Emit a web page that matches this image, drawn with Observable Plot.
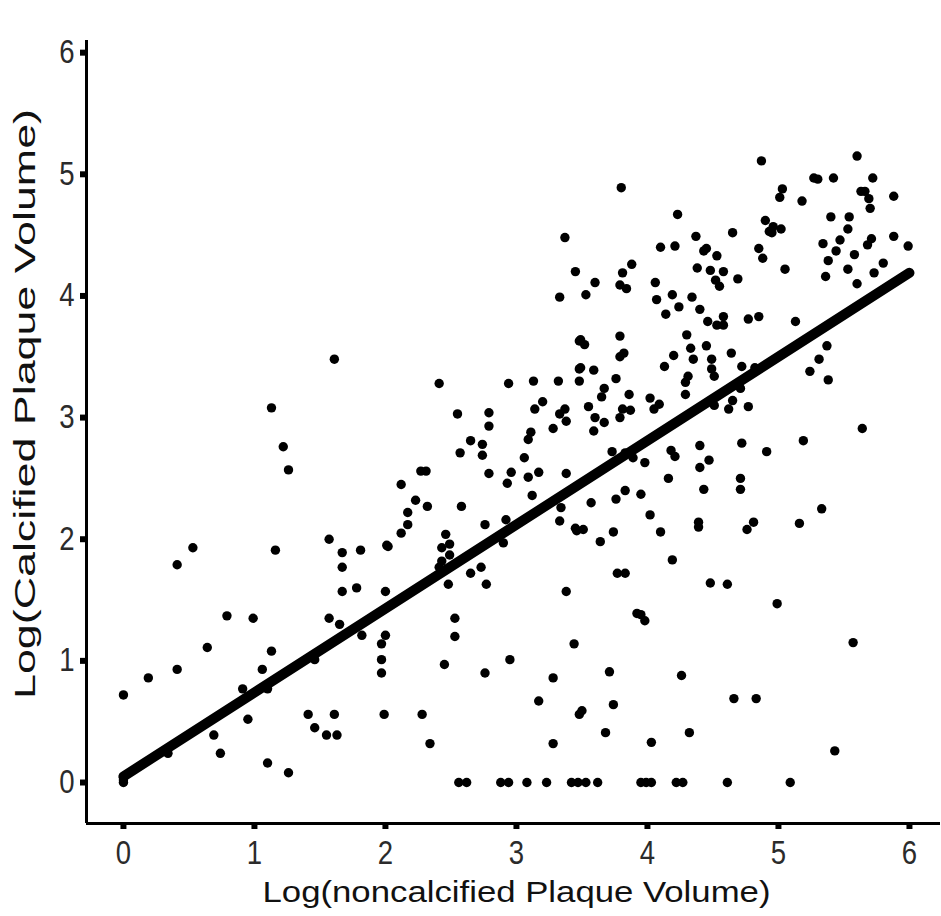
<!DOCTYPE html>
<html>
<head>
<meta charset="utf-8">
<script src="https://cdn.jsdelivr.net/npm/d3@7"></script>
<script src="https://cdn.jsdelivr.net/npm/@observablehq/plot@0.6"></script>
<style>
  html, body { margin: 0; padding: 0; background: #fff; }
  #chart { width: 941px; height: 916px; }
</style>
</head>
<body>
<div id="chart"></div>
<script>
// Log(noncalcified Plaque Volume) values of each patient
const noncalcified = [
  // low range
  1.61,1.13,1.22,1.26,1.57,0.53,0.41,1.16,1.67,1.81,2.01,1.67,1.67,1.78,2.00,0.79,0.99,1.57,1.65,1.82,
  2.00,1.97,0.64,1.13,1.46,1.97,1.97,0.41,1.06,0.19,0.00,0.91,1.10,0.95,1.41,1.61,1.99,1.46,1.55,1.63,
  0.69,0.74,0.34,1.10,1.26,0.00,0.00,0.00,
  // middle range
  3.48,3.48,2.41,2.94,3.13,3.32,3.48,3.20,3.14,3.37,3.33,3.38,3.28,2.55,2.79,2.79,3.11,3.09,2.65,2.74,
  2.74,2.57,3.06,2.27,2.31,2.79,2.96,3.17,3.38,3.09,2.93,2.12,3.12,2.23,2.32,2.58,2.17,3.34,2.17,2.12,
  3.33,2.76,2.92,3.46,2.46,2.02,2.43,2.49,2.49,2.43,2.41,2.90,2.65,2.73,2.48,2.77,3.38,2.53,2.53,2.45,
  2.95,2.76,3.44,3.28,3.17,2.28,2.34,3.28,3.48,3.37,3.33,
  // zeros of calcified volume
  2.56,2.62,2.88,2.94,3.08,3.23,3.42,3.47,3.53,3.62,3.95,3.99,4.03,4.22,4.27,4.61,
  // upper-middle range
  4.87,3.80,4.23,4.90,4.93,4.65,4.37,4.10,4.21,4.43,4.45,4.53,4.85,4.88,3.88,3.45,3.81,4.38,4.48,4.58,
  4.69,3.60,3.79,3.84,4.06,4.52,4.55,3.53,4.19,4.34,4.07,4.24,4.40,4.14,4.46,4.53,4.58,4.58,4.77,4.85,
  3.79,3.49,3.52,4.30,4.45,4.33,3.82,3.79,4.20,4.35,4.49,4.64,4.13,3.49,3.59,4.49,4.51,4.72,4.82,3.76,
  4.31,4.29,3.67,3.65,3.86,4.29,4.71,4.02,4.09,4.05,3.55,3.81,3.87,3.79,3.60,3.67,3.59,4.51,4.65,4.62,
  4.77,3.73,3.83,3.89,3.98,4.18,4.21,4.40,4.47,4.72,4.91,4.16,4.40,4.71,4.71,4.43,3.76,3.83,3.95,3.57,
  4.02,3.45,3.51,3.74,3.64,4.10,4.39,4.39,4.81,4.76,4.19,3.77,3.83,4.48,4.61,3.92,3.95,3.98,3.71,4.26,
  3.74,3.50,4.66,4.83,3.68,4.32,4.03,
  // high range
  5.60,5.27,5.30,5.42,5.72,5.03,5.01,5.63,5.66,5.69,5.70,5.88,5.18,4.96,5.02,4.95,5.40,5.54,5.53,5.34,
  5.47,5.71,5.68,5.88,5.99,5.44,5.58,5.38,5.80,5.05,5.53,5.73,5.36,5.60,5.13,5.37,5.31,5.24,5.38,5.64,
  5.19,5.33,5.16,4.99,5.57,5.43,5.09
];
// Log(Calcified Plaque Volume) values, same order
const calcified = [
  3.48,3.08,2.76,2.57,2.00,1.93,1.79,1.91,1.89,1.91,1.95,1.77,1.57,1.60,1.57,1.37,1.35,1.35,1.30,1.21,
  1.21,1.14,1.11,1.08,1.01,1.01,0.90,0.93,0.93,0.86,0.72,0.77,0.77,0.52,0.56,0.56,0.56,0.45,0.39,0.39,
  0.39,0.24,0.24,0.16,0.08,0.00,0.02,0.04,
  3.63,3.40,3.28,3.28,3.30,3.30,3.30,3.13,3.07,3.07,3.03,2.97,2.91,3.03,3.04,2.93,2.88,2.82,2.81,2.78,
  2.69,2.71,2.67,2.56,2.56,2.54,2.55,2.55,2.54,2.51,2.46,2.45,2.36,2.32,2.27,2.27,2.22,2.26,2.12,2.05,
  2.15,2.12,2.16,2.07,2.04,1.94,1.93,1.96,1.87,1.82,1.77,1.97,1.72,1.77,1.63,1.63,1.57,1.35,1.20,0.97,
  1.01,0.90,1.14,0.86,0.67,0.56,0.32,0.32,0.56,4.48,3.99,
  0,0,0,0,0,0,0,0,0,0,0,0,0,0,0,0,
  5.11,4.89,4.67,4.62,4.53,4.52,4.49,4.40,4.41,4.37,4.39,4.33,4.39,4.31,4.26,4.20,4.19,4.23,4.21,4.20,
  4.14,4.11,4.09,4.06,4.11,4.13,4.08,4.01,4.01,3.99,3.97,3.91,3.89,3.85,3.79,3.76,3.76,3.83,3.81,3.83,
  3.67,3.64,3.60,3.68,3.59,3.57,3.53,3.50,3.51,3.48,3.48,3.53,3.42,3.41,3.39,3.40,3.34,3.42,3.41,3.32,
  3.34,3.29,3.24,3.17,3.19,3.19,3.24,3.16,3.11,3.07,3.09,3.07,3.06,3.00,3.00,2.96,2.89,3.10,3.14,3.07,
  3.09,2.72,2.71,2.67,2.63,2.73,2.68,2.77,2.65,2.79,2.72,2.50,2.59,2.50,2.41,2.41,2.33,2.40,2.37,2.30,
  2.20,2.09,2.08,2.06,1.98,2.06,2.14,2.10,2.14,2.08,1.83,1.72,1.72,1.64,1.63,1.39,1.38,1.33,0.91,0.88,
  0.64,0.59,0.69,0.69,0.41,0.41,0.33,
  5.15,4.97,4.96,4.97,4.97,4.88,4.81,4.86,4.86,4.80,4.72,4.82,4.78,4.57,4.55,4.52,4.65,4.65,4.55,4.43,
  4.46,4.47,4.42,4.49,4.41,4.37,4.34,4.29,4.27,4.22,4.22,4.19,4.16,4.10,3.79,3.59,3.48,3.38,3.31,2.91,
  2.81,2.25,2.13,1.47,1.15,0.26,0.00
];
// fitted regression line end points
const fitX = [0, 6];
const fitY = [0.05, 4.19];
// tick labels
const xTicks = [0, 1, 2, 3, 4, 5, 6];
const yTicks = [0, 1, 2, 3, 4, 5, 6];
const xTitle = "Log(noncalcified Plaque Volume)";
const yTitle = "Log(Calcified Plaque Volume)";

const points = noncalcified.map((x, i) => ({x, y: calcified[i]}));
const fit = fitX.map((x, i) => ({x, y: fitY[i]}));
const xDomain = [-0.282, 6.237];
const yDomain = [-0.337, 6.1];

const chart = Plot.plot({
  width: 941,
  height: 916,
  marginLeft: 86,
  marginRight: 1,
  marginTop: 40,
  marginBottom: 93,
  style: {fontFamily: "Liberation Sans, Arial, sans-serif", background: "#fff"},
  x: {domain: xDomain, range: [86, 940]},
  y: {domain: yDomain, range: [823, 40]},
  marks: [
    Plot.dot(points, {x: "x", y: "y", r: 4.7, fill: "#000", stroke: "none"}),
    Plot.line(fit, {x: "x", y: "y", stroke: "#000", strokeWidth: 10, strokeLinecap: "round"}),
    Plot.ruleX([xDomain[0]], {stroke: "#000", strokeWidth: 3}),
    Plot.ruleY([yDomain[0]], {stroke: "#000", strokeWidth: 3}),
    Plot.axisX(xTicks, {tickSize: 6, strokeWidth: 6, tickPadding: 11, fontSize: 29, fill: "#2b2b2b",
      tickFormat: d => String(d), label: null, className: "xax"}),
    Plot.axisY(yTicks, {tickSize: 6, strokeWidth: 6, tickPadding: 6, fontSize: 29, fill: "#2b2b2b",
      tickFormat: d => String(d), label: null, className: "yax"}),
    Plot.text([xTitle], {frameAnchor: "bottom", dx: 3, dy: 78, fontSize: 30, fill: "#111", className: "xtitle"}),
    Plot.text([yTitle], {frameAnchor: "left", textAnchor: "middle", rotate: -90, dx: -61, dy: -28,
      fontSize: 30, fill: "#111", className: "ytitle"})
  ]
});
document.getElementById("chart").appendChild(chart);

// condense fonts like the original
chart.querySelectorAll(".xtitle text").forEach(t => {
  t.setAttribute("textLength", 508);
  t.setAttribute("lengthAdjust", "spacingAndGlyphs");
});
chart.querySelectorAll(".ytitle text").forEach(t => {
  t.setAttribute("textLength", 590);
  t.setAttribute("lengthAdjust", "spacingAndGlyphs");
});
// taller, narrower tick digits
chart.querySelectorAll(".xax text, .yax text").forEach(t => {
  const tr = t.getAttribute("transform");
  if (tr) t.setAttribute("transform", tr + " scale(0.95,1.12)");
});
</script>
</body>
</html>
